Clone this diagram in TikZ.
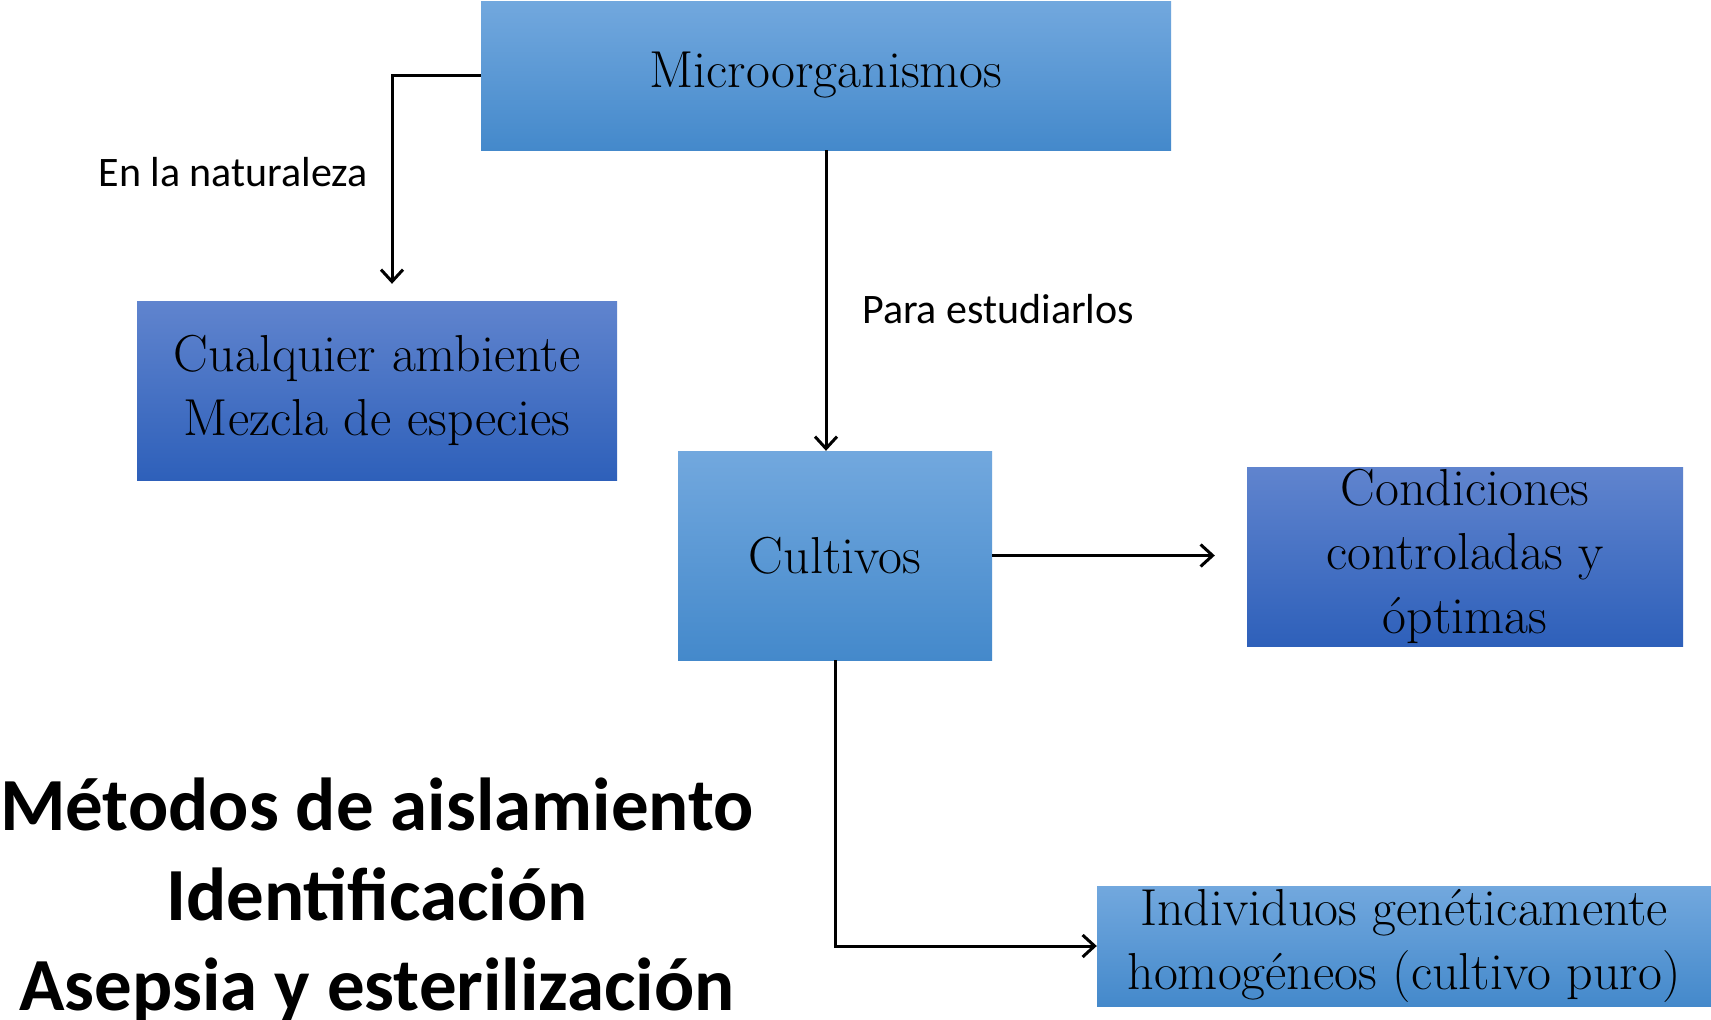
\documentclass[tikz,border=0pt]{standalone}
\usepackage{fontspec}
\newfontfamily\calibri{Carlito}
\usetikzlibrary{arrows.meta,calc}
\definecolor{ltop}{RGB}{114,168,222}
\definecolor{lmid}{RGB}{84,154,220}
\definecolor{lbot}{RGB}{68,137,203}
\definecolor{dtop}{RGB}{96,132,206}
\definecolor{dmid}{RGB}{64,112,200}
\definecolor{dbot}{RGB}{46,96,186}
\tikzset{
  boxtext/.style={inner sep=0pt, align=center, font=\fontsize{52}{64}\selectfont},
  lightbox/.style={boxtext, rectangle, top color=ltop, middle color=lmid, bottom color=lbot},
  darkbox/.style={boxtext, rectangle, top color=dtop, middle color=dmid, bottom color=dbot},
  conn/.style={draw=black, line width=3pt, -{Straight Barb[length=12pt,width=22pt]}},
  lab/.style={inner sep=0pt, font=\calibri\fontsize{42}{50}\selectfont},
}
\begin{document}
\begin{tikzpicture}[x=1pt,y=-1pt]
\useasboundingbox[fill=white] (0,0) rectangle (1711,1020);

\node[lightbox, minimum width=690pt, minimum height=149pt] (micro) at (826,75.5) {Microorganismos};
\node[darkbox, minimum width=480pt, minimum height=179pt] (cual) at (377,390.5) {Cualquier ambiente\\Mezcla de especies};
\node[lightbox, minimum width=314pt, minimum height=209pt] (cult) at (835,555.5) {Cultivos};
\node[darkbox, minimum width=436pt, minimum height=179pt] (cond) at (1465,556.5) {Condiciones\\controladas y\\óptimas};
\node[lightbox, minimum width=614pt, minimum height=120pt] (indiv) at (1404,946) {Individuos genéticamente\\homogéneos (cultivo puro)};

\coordinate (cualtip) at ($(cual.north)+(15,-17)$);
\coordinate (condtip) at ($(cond.west)+(-32,0)$);

\draw[conn] (micro.west) -| (cualtip);
\draw[conn] (micro.south) -- (micro.south |- cult.north);
\draw[conn] (cult.east) -- (cult.east -| condtip);
\draw[conn] (cult.south) |- (indiv.west);

\node[lab, anchor=east] (natlab) at (368,172) {En la naturaleza};
\node[lab, anchor=west] (estlab) at (862,309) {Para estudiarlos};

\node[inner sep=0pt, align=center, font=\calibri\bfseries\fontsize{75}{90}\selectfont] (metodos) at (377,900) {Métodos de aislamiento\\Identificación\\Asepsia y esterilización};
\end{tikzpicture}
\end{document}
